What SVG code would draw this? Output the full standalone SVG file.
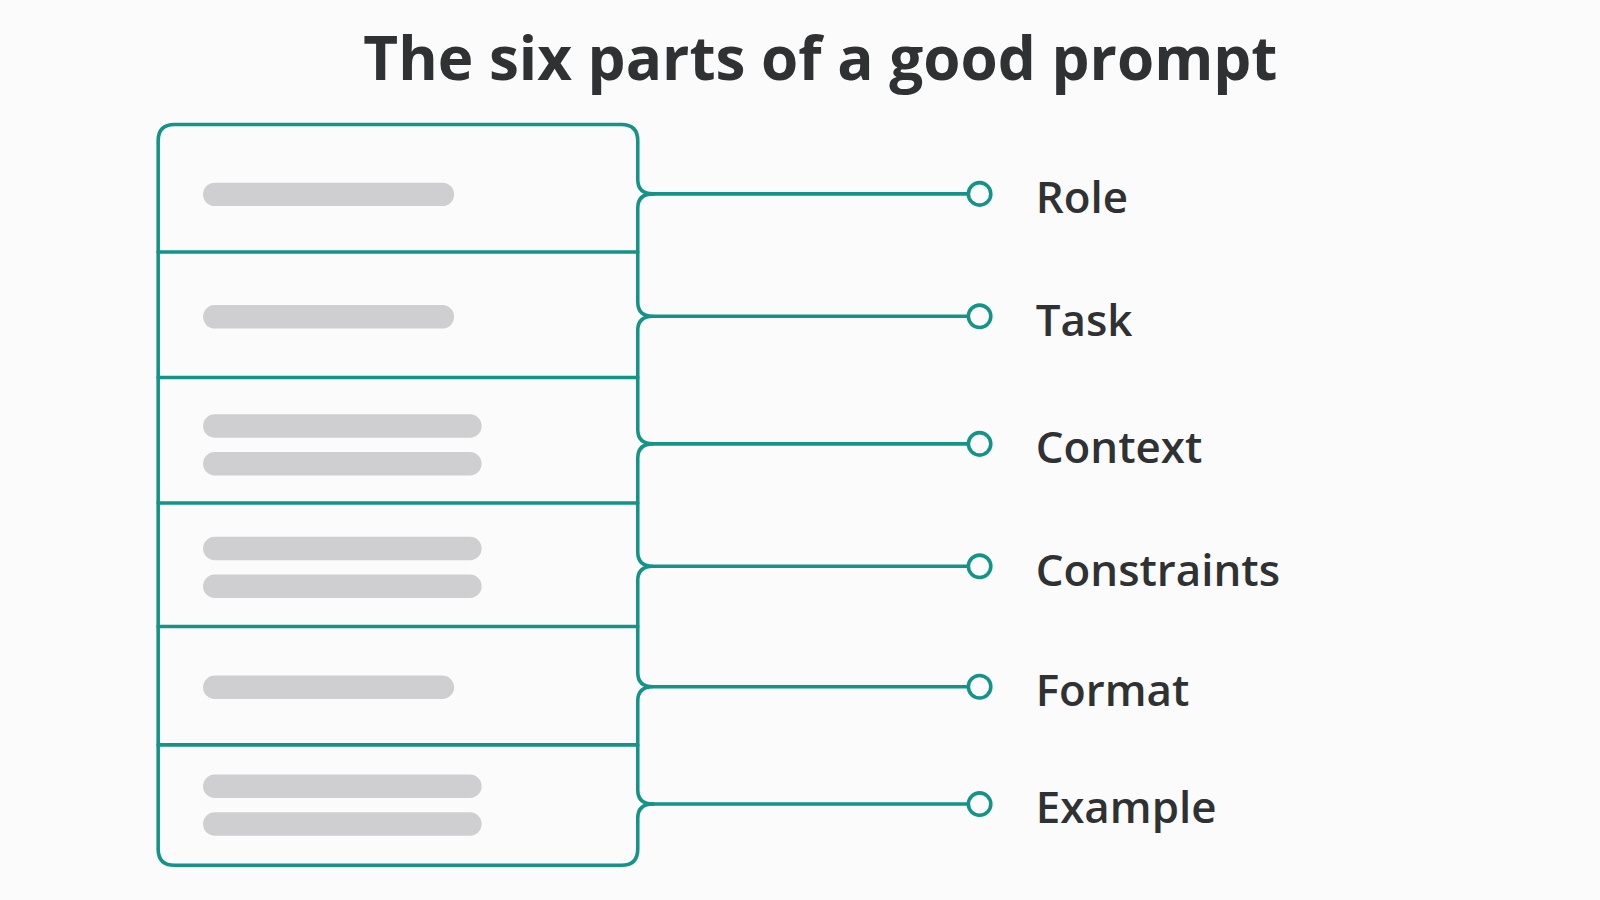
<svg xmlns="http://www.w3.org/2000/svg" width="1600" height="900" viewBox="0 0 1600 900">
<style>
.t{font-family:"Open Sans","Liberation Sans",sans-serif;fill:#2f3133}
.lbl{font-size:43px;font-weight:600}
.ln{fill:none;stroke:#149488;stroke-width:3.5;stroke-linecap:round}
.bar{fill:#cfcfd1}
</style>
<rect width="1600" height="900" fill="#fbfbfb"/>
<g transform="scale(1.0204)">
<text class="t" x="804" y="78" text-anchor="middle" font-size="59" font-weight="700">The six parts of a good prompt</text>
<g id="prompt-box">
<path class="ln" d="M640 190 Q625 190 625 176 V138 Q625 122 609 122 H171 Q155 122 155 138 V832 Q155 848 171 848 H609 Q625 848 625 832 V802 Q625 788 640 788"/>
<path class="ln" d="M640 190 Q625 190 625 204 V296 Q625 310 640 310 Q625 310 625 324 V421 Q625 435 640 435 Q625 435 625 449 V541 Q625 555 640 555 Q625 555 625 569 V659 Q625 673 640 673 Q625 673 625 687 V774 Q625 788 640 788"/>
<path class="ln" d="M155 247 H625 M155 370 H625 M155 493 H625 M155 614 H625 M155 730 H625"/>
<rect class="bar" x="199" y="179" width="246" height="23" rx="11.5"/>
<rect class="bar" x="199" y="299" width="246" height="23" rx="11.5"/>
<rect class="bar" x="199" y="406" width="273" height="23" rx="11.5"/>
<rect class="bar" x="199" y="443" width="273" height="23" rx="11.5"/>
<rect class="bar" x="199" y="526" width="273" height="23" rx="11.5"/>
<rect class="bar" x="199" y="563" width="273" height="23" rx="11.5"/>
<rect class="bar" x="199" y="662" width="246" height="23" rx="11.5"/>
<rect class="bar" x="199" y="759" width="273" height="23" rx="11.5"/>
<rect class="bar" x="199" y="796" width="273" height="23" rx="11.5"/>
</g>
<g id="connectors">
<path class="ln" d="M640 190 H948 M640 310 H948 M640 435 H948 M640 555 H948 M640 673 H948 M640 788 H948"/>
</g>
<g id="role"><circle class="ln" cx="960" cy="190" r="11"/><text class="t lbl" x="1015" y="209">Role</text></g>
<g id="task"><circle class="ln" cx="960" cy="310" r="11"/><text class="t lbl" x="1015" y="329">Task</text></g>
<g id="context"><circle class="ln" cx="960" cy="435" r="11"/><text class="t lbl" x="1015" y="454">Context</text></g>
<g id="constraints"><circle class="ln" cx="960" cy="555" r="11"/><text class="t lbl" x="1015" y="574">Constraints</text></g>
<g id="format"><circle class="ln" cx="960" cy="673" r="11"/><text class="t lbl" x="1015" y="692">Format</text></g>
<g id="example"><circle class="ln" cx="960" cy="788" r="11"/><text class="t lbl" x="1015" y="807">Example</text></g>
</g>
</svg>
